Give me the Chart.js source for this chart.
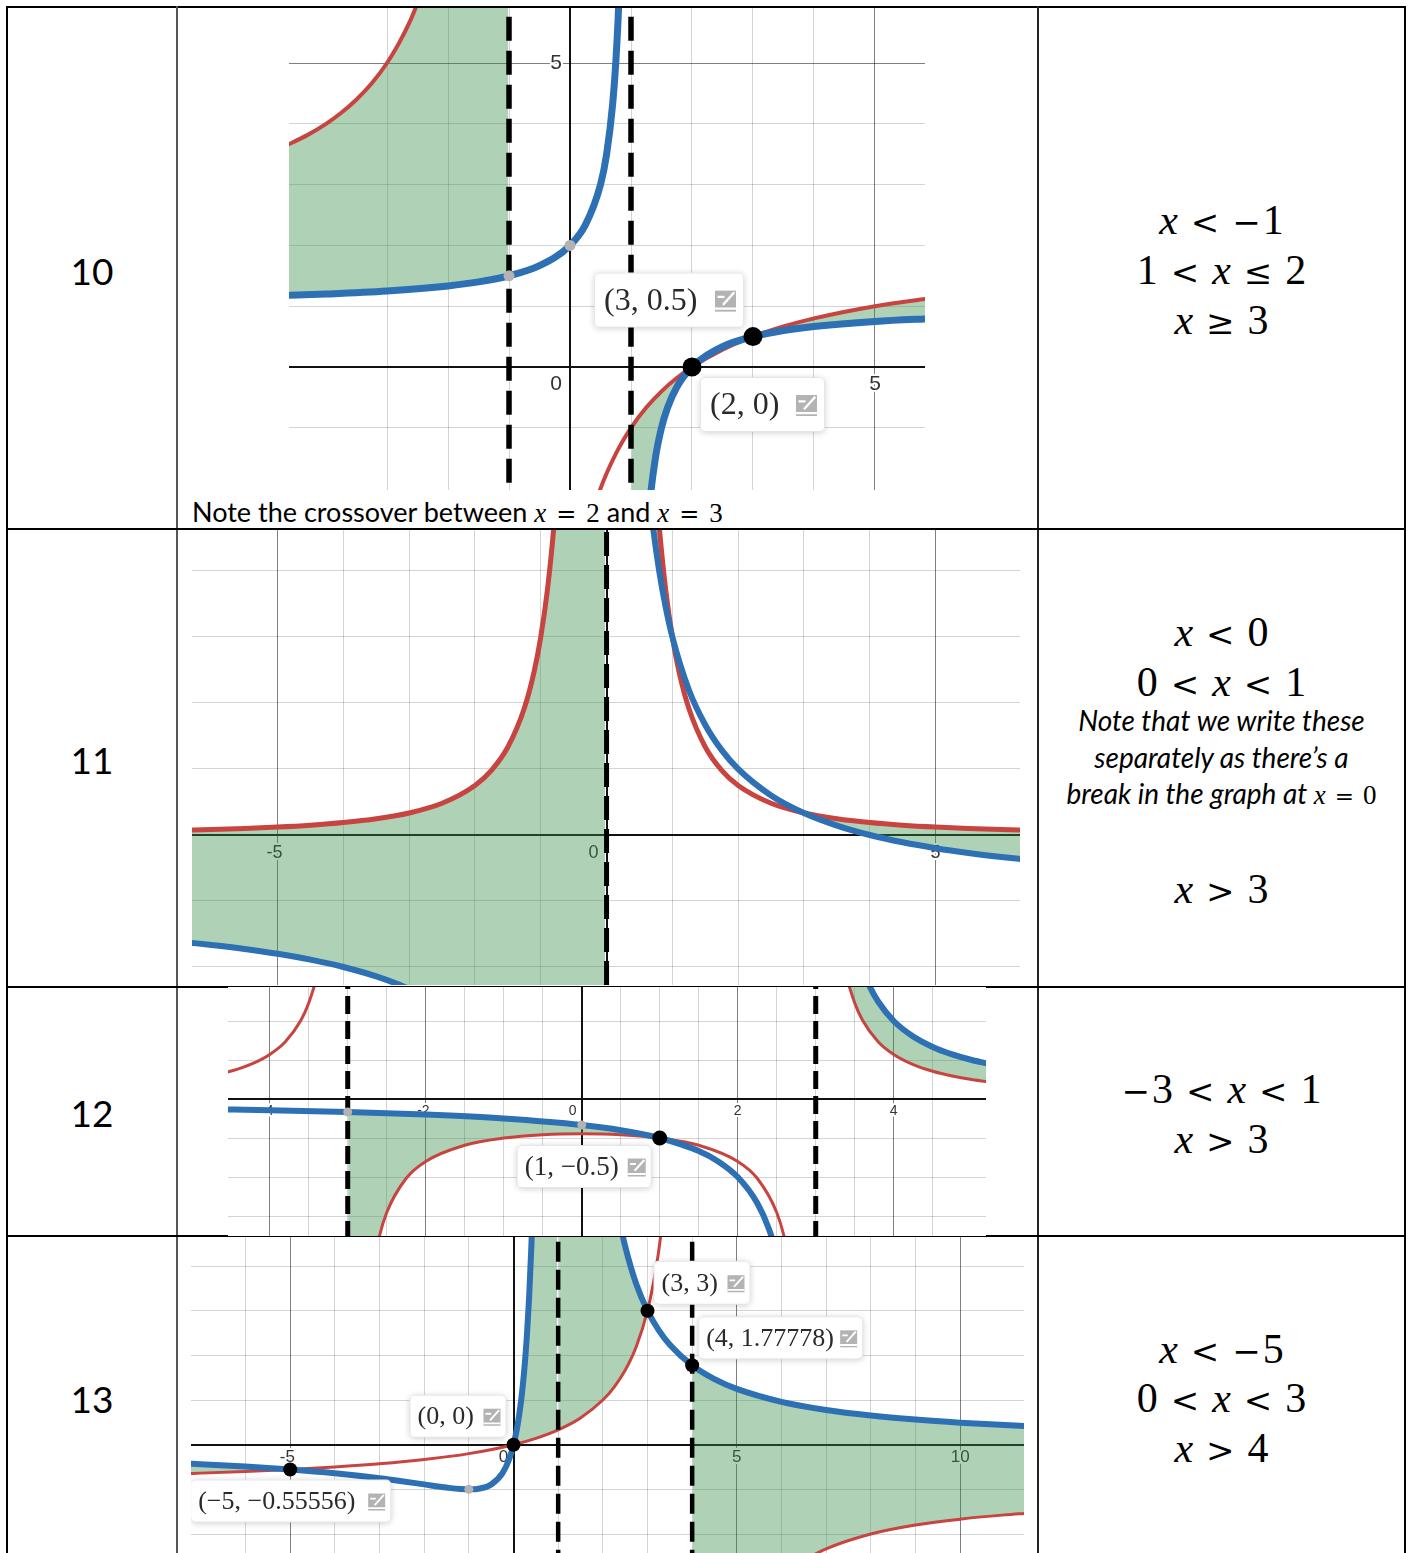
<!DOCTYPE html>
<html><head><meta charset="utf-8">
<script src="https://cdn.jsdelivr.net/npm/chart.js@4/dist/chart.umd.min.js"></script>
<style>
html,body{margin:0;padding:0;background:#fff;}
#page{position:relative;width:1410px;height:1553px;overflow:hidden;background:#fff;}
.ln{position:absolute;background:#000;z-index:1;}
canvas.graph{position:absolute;background:#fff;z-index:2;}
.num{position:absolute;left:7px;width:170px;text-align:center;font-family:Lato,sans-serif;font-size:37px;line-height:1;transform:translateY(-50%);color:#000;}
.sol{position:absolute;left:1039px;width:365px;text-align:center;font-family:'Liberation Serif',serif;font-size:42px;line-height:1;transform:translateY(-50%);color:#000;white-space:nowrap;}
.sol i,.mi{font-style:italic;font-family:'Liberation Serif',serif;}
.op{margin:0 13px;font-family:'DejaVu Serif',serif;font-size:34px;}
.neg{margin:0 2px 0 0;font-family:'DejaVu Serif',serif;font-size:34px;}
.note{position:absolute;left:1039px;width:365px;text-align:center;font-family:Lato,sans-serif;font-style:italic;font-size:28px;line-height:1;transform:translateY(-50%);white-space:nowrap;color:#000;}
.note .m{font-style:normal;font-family:'Liberation Serif',serif;font-size:27px;}
.note .mo{margin:0 9px;font-family:'DejaVu Serif',serif;font-size:23px;}
.cap{position:absolute;left:192px;font-family:Lato,sans-serif;font-size:27px;line-height:1;transform:translateY(-50%);white-space:nowrap;z-index:3;color:#000;}
.cap .m{font-family:'Liberation Serif',serif;font-size:27px;}
.cap .mo{margin:0 10px;font-family:'DejaVu Serif',serif;font-size:24px;}
</style>
</head>
<body>
<div id="page">
  <!-- table borders -->
  <div class="ln" style="left:6px;top:6px;width:1400px;height:2px;"></div>
  <div class="ln" style="left:6px;top:6px;width:2px;height:1547px;"></div>
  <div class="ln" style="left:1404px;top:6px;width:2px;height:1547px;"></div>
  <div class="ln" style="left:176px;top:6px;width:2px;height:1547px;background:#555;"></div>
  <div class="ln" style="left:1037px;top:6px;width:2px;height:1547px;background:#222;"></div>
  <div class="ln" style="left:6px;top:528px;width:1400px;height:2px;"></div>
  <div class="ln" style="left:6px;top:986px;width:1400px;height:2px;"></div>
  <div class="ln" style="left:6px;top:1235px;width:1400px;height:2px;"></div>

  <canvas id="g10" class="graph" width="636" height="482" style="left:289px;top:8px;"></canvas>
  <canvas id="g11" class="graph" width="828" height="455" style="left:192px;top:530px;"></canvas>
  <canvas id="g12" class="graph" width="758" height="249" style="left:228px;top:987px;"></canvas>
  <canvas id="g13" class="graph" width="833" height="316" style="left:191px;top:1237px;"></canvas>

  <div id="texts"></div>
</div>

<script>
// ================= DATA =================
const rowNumbers = ['10', '11', '12', '13'];

// ---- Row 10 : blue curve (two branches), red curve (two branches)
const r10BlueLeftX  = [-4.7, -4, -3, -2, -1.5, -1, -0.5, 0, 0.25, 0.5, 0.6, 0.7, 0.75, 0.8, 0.85, 0.9, 0.95, 0.99];
const r10BlueLeftY  = [1.1754, 1.2, 1.25, 1.3333, 1.4, 1.5, 1.6667, 2, 2.3333, 3, 3.5, 4.3333, 5, 6, 7.6667, 11, 21, 101];
const r10BlueRightX = [1.01, 1.05, 1.1, 1.2, 1.3, 1.4, 1.5, 1.6, 1.75, 2, 2.5, 3, 3.5, 4, 5, 6];
const r10BlueRightY = [-99, -19, -9, -4, -2.3333, -1.5, -1, -0.6667, -0.3333, 0, 0.3333, 0.5, 0.6, 0.6667, 0.75, 0.8];
const r10RedLeftX   = [-4.7, -4.3, -4, -3.75, -3.5, -3.25, -3, -2.75, -2.5, -2, -1.5, -1.2, -1.05, -1.01];
const r10RedLeftY   = [3.6216, 3.8182, 4, 4.1818, 4.4, 4.6667, 5, 5.4286, 6, 8, 14, 32, 122, 602];
const r10RedRightX  = [-0.99, -0.9, -0.5, 0, 0.25, 0.5, 0.75, 1, 1.25, 1.5, 1.75, 2, 2.5, 3, 3.5, 4, 5, 6];
const r10RedRightY  = [-598, -58, -10, -4, -2.8, -2, -1.4286, -1, -0.6667, -0.4, -0.1818, 0, 0.2857, 0.5, 0.6667, 0.8, 1, 1.1429];
const r10Asymptotes = [-1, 1];
const r10KeyX = [2, 3],   r10KeyY = [0, 0.5];
const r10GreyX = [-1, 0], r10GreyY = [1.5, 2];
const r10PointLabels = ['(3, 0.5)', '(2, 0)'];
const r10PointLabelAt = [[3, 0.5], [2, 0]];
const r10AxisTicks = ['0', '5'];
const r10AxisTickValues = [0, 5];

// ---- Row 11
const r11BlueLeftX  = [-6.4, -6, -5.5, -5, -4.5, -4, -3.5, -3, -2.5, -2, -1, -0.5, -0.1, -0.02];
const r11BlueLeftY  = [-1.625, -1.6667, -1.7273, -1.8, -1.8889, -2, -2.1429, -2.3333, -2.6, -3, -5, -9, -41, -201];
const r11BlueRightX = [0.02, 0.1, 0.3, 0.5, 0.6, 0.7, 0.8, 0.9, 1, 1.25, 1.5, 1.75, 2, 2.5, 3, 3.5, 4, 4.5, 5, 5.5, 6, 6.4];
const r11BlueRightY = [199, 39, 12.3333, 7, 5.6667, 4.7143, 4, 3.4444, 3, 2.2, 1.6667, 1.2857, 1, 0.6, 0.3333, 0.1429, 0, -0.1111, -0.2, -0.2727, -0.3333, -0.375];
const r11RedLeftX   = [-6.4, -6, -5.5, -5, -4.5, -4, -3.5, -3, -2.5, -2, -1.75, -1.5, -1.25, -1.1, -1, -0.9, -0.8, -0.7, -0.6, -0.5, -0.3, -0.1, -0.02];
const r11RedLeftY   = [0.0732, 0.0833, 0.0992, 0.12, 0.1481, 0.1875, 0.2449, 0.3333, 0.48, 0.75, 0.9796, 1.3333, 1.92, 2.4793, 3, 3.7037, 4.6875, 6.1224, 8.3333, 12, 33.33, 300, 7500];
const r11RedRightX  = [0.02, 0.1, 0.3, 0.5, 0.6, 0.7, 0.8, 0.9, 1, 1.1, 1.25, 1.5, 1.75, 2, 2.5, 3, 3.5, 4, 4.5, 5, 5.5, 6, 6.4];
const r11RedRightY  = [7500, 300, 33.33, 12, 8.3333, 6.1224, 4.6875, 3.7037, 3, 2.4793, 1.92, 1.3333, 0.9796, 0.75, 0.48, 0.3333, 0.2449, 0.1875, 0.1481, 0.12, 0.0992, 0.0833, 0.0732];
const r11Asymptotes = [0];
const r11AxisTicks = ['-5', '0', '5'];
const r11AxisTickValues = [-5, 0, 5];

// ---- Row 12
const r12BlueLeftX  = [-4.7, -4, -3, -2, -1, 0, 0.5, 1, 1.5, 1.75, 2, 2.25, 2.4, 2.5, 2.6, 2.75, 2.9, 2.98, 2.995];
const r12BlueLeftY  = [-0.1299, -0.1429, -0.1667, -0.2, -0.25, -0.3333, -0.4, -0.5, -0.6667, -0.8, -1, -1.3333, -1.6667, -2, -2.5, -4, -10, -50, -200];
const r12BlueRightX = [3.005, 3.02, 3.1, 3.25, 3.5, 3.6, 3.7, 3.8, 4, 4.25, 4.5, 4.75, 5, 5.3];
const r12BlueRightY = [200, 50, 10, 4, 2, 1.6667, 1.4286, 1.25, 1, 0.8, 0.6667, 0.5714, 0.5, 0.4348];
const r12RedLeftX   = [-4.7, -4.4, -4.2, -4, -3.8, -3.6, -3.5, -3.4, -3.3, -3.2, -3.1, -3.02, -3.005];
const r12RedLeftY   = [0.3056, 0.3861, 0.463, 0.5714, 0.7353, 1.0101, 1.2308, 1.5625, 2.1164, 3.2258, 6.557, 33.2, 133.2];
const r12RedMidX    = [-2.995, -2.98, -2.9, -2.8, -2.7, -2.6, -2.5, -2.25, -2, -1.5, -1, -0.5, 0, 0.5, 1, 1.5, 2, 2.25, 2.5, 2.6, 2.7, 2.8, 2.9, 2.98, 2.995];
const r12RedMidY    = [-133.4, -33.4, -6.78, -3.448, -2.339, -1.786, -1.4545, -1.0159, -0.8, -0.5926, -0.5, -0.4571, -0.4444, -0.4571, -0.5, -0.5926, -0.8, -1.0159, -1.4545, -1.786, -2.339, -3.448, -6.78, -33.4, -133.4];
const r12RedRightX  = [3.005, 3.02, 3.1, 3.2, 3.3, 3.4, 3.5, 3.6, 3.8, 4, 4.25, 4.5, 4.75, 5, 5.3];
const r12RedRightY  = [133.2, 33.2, 6.557, 3.2258, 2.1164, 1.5625, 1.2308, 1.0101, 0.7353, 0.5714, 0.4414, 0.3556, 0.2949, 0.25, 0.2095];
const r12Asymptotes = [-3, 3];
const r12KeyX = [1], r12KeyY = [-0.5];
const r12GreyX = [-3, 0], r12GreyY = [-0.1667, -0.3333];
const r12PointLabels = ['(1, \u22120.5)'];
const r12PointLabelAt = [[1, -0.5]];
const r12AxisTicks = ['-4', '-2', '0', '2', '4'];
const r12AxisTickValues = [-4, -2, 0, 2, 4];

// ---- Row 13
const r13BlueLeftX  = [-7.3, -7, -6, -5, -4, -3, -2.5, -2, -1.5, -1, -0.75, -0.5, -0.25, -0.1, 0, 0.05, 0.1, 0.15, 0.2, 0.25, 0.3, 0.35, 0.4, 0.45, 0.5, 0.6, 0.8, 0.95, 0.98];
const r13BlueLeftY  = [-0.4239, -0.4375, -0.4898, -0.5556, -0.64, -0.75, -0.8163, -0.8889, -0.96, -1, -0.9796, -0.8889, -0.64, -0.3306, 0, 0.2216, 0.4938, 0.8304, 1.25, 1.7778, 2.449, 3.3136, 4.4444, 5.9504, 8, 15, 80, 1520, 9800];
const r13BlueRightX = [1.02, 1.05, 1.2, 1.5, 1.75, 2, 2.1, 2.25, 2.4, 2.5, 2.75, 3, 3.25, 3.5, 4, 4.5, 5, 6, 7, 8, 9, 10, 11, 11.5];
const r13BlueRightY = [10200, 1680, 120, 24, 12.444, 8, 6.9421, 5.76, 4.898, 4.4444, 3.5918, 3, 2.5679, 2.24, 1.7778, 1.4694, 1.25, 0.96, 0.7778, 0.6531, 0.5625, 0.4938, 0.44, 0.4172];
const r13RedLeftX   = [-7.3, -7, -6, -5, -4, -3, -2, -1, 0, 0.5, 1, 1.5, 2, 2.25, 2.5, 2.75, 3, 3.2, 3.3, 3.4, 3.5, 3.7, 3.9, 3.99];
const r13RedLeftY   = [-0.646, -0.6364, -0.6, -0.5556, -0.5, -0.4286, -0.3333, -0.2, 0, 0.1429, 0.3333, 0.6, 1, 1.2857, 1.6667, 2.2, 3, 4, 4.7143, 5.6667, 7, 12.3333, 39, 399];
const r13RedRightX  = [4.01, 4.1, 4.5, 5, 5.5, 6, 6.5, 7, 8, 9, 10, 11, 11.5];
const r13RedRightY  = [-401, -41, -9, -5, -3.6667, -3, -2.6, -2.3333, -2, -1.8, -1.6667, -1.5714, -1.5333];
const r13Asymptotes = [1, 4];
const r13KeyX = [-5, 0, 3, 4], r13KeyY = [-0.5556, 0, 3, 1.7778];
const r13GreyX = [-1], r13GreyY = [-1];
const r13PointLabels = ['(3, 3)', '(4, 1.77778)', '(0, 0)', '(\u22125, \u22120.55556)'];
const r13PointLabelAt = [[3, 3], [4, 1.7778], [0, 0], [-5, -0.5556]];
const r13AxisTicks = ['-5', '0', '5', '10'];
const r13AxisTickValues = [-5, 0, 5, 10];

// ---- right-hand column solutions
const sol10 = ['x < \u22121', '1 < x \u2264 2', 'x \u2265 3'];
const sol11 = ['x < 0', '0 < x < 1', 'x > 3'];
const note11 = ['Note that we write these', 'separately as there\u2019s a', 'break in the graph at '];
const sol12 = ['\u22123 < x < 1', 'x > 3'];
const sol13 = ['x < \u22125', '0 < x < 3', 'x > 4'];
const caption10 = 'Note the crossover between ';

// ================= STYLE / LAYOUT =================
const BLUE = '#2d70b3', RED = '#c74440', GREEN = 'rgba(56,140,70,0.40)';
function pts(xs, ys) { return xs.map((x, i) => ({x: x, y: ys[i]})); }

function isMult(v, s) { const k = v / s; return Math.abs(k - Math.round(k)) < 1e-6; }
function gridColor(step, major) {
  return ctx => {
    if (!ctx.tick) return 'rgba(0,0,0,0)';
    const v = ctx.tick.value;
    if (!isMult(v, step)) return 'rgba(0,0,0,0)';
    if (Math.abs(v) < 1e-9) return '#111';
    if (isMult(v, major)) return 'rgba(0,0,0,0.5)';
    return 'rgba(0,0,0,0.17)';
  };
}
function gridWidth() { return ctx => (ctx.tick && Math.abs(ctx.tick.value) < 1e-9) ? 2 : 1; }

function roundRect(ctx, x, y, w, h, r) {
  ctx.beginPath();
  ctx.moveTo(x + r, y);
  ctx.arcTo(x + w, y, x + w, y + h, r);
  ctx.arcTo(x + w, y + h, x, y + h, r);
  ctx.arcTo(x, y + h, x, y, r);
  ctx.arcTo(x, y, x + w, y, r);
  ctx.closePath();
}

function makePlugin(s) {
  return {
    id: 'desmosText',
    beforeDatasetsDraw(chart) {
      const ctx = chart.ctx, xs = chart.scales.x, ys = chart.scales.y;
      ctx.save();
      ctx.font = s.tickFont + 'px "Liberation Sans", Arial, sans-serif';
      ctx.textAlign = 'center';
      ctx.textBaseline = 'middle';
      ctx.lineJoin = 'round';
      for (const t of s.ticks) {
        let px, py;
        if (t.axis === 'x') { px = xs.getPixelForValue(t.v) + t.dx; py = ys.getPixelForValue(0) + t.dy; }
        else { px = xs.getPixelForValue(0) + t.dx; py = ys.getPixelForValue(t.v) + t.dy; }
        if (t.text[0] === '-') px -= ctx.measureText('-').width / 2;
        ctx.strokeStyle = '#fff'; ctx.lineWidth = 4;
        ctx.strokeText(t.text, px, py);
        ctx.fillStyle = '#333';
        ctx.fillText(t.text, px, py);
      }
      ctx.restore();
    },
    afterDatasetsDraw(chart) {
      const ctx = chart.ctx, xs = chart.scales.x, ys = chart.scales.y;
      for (const b of s.boxes) {
        const px = xs.getPixelForValue(b.at[0]), py = ys.getPixelForValue(b.at[1]);
        const bx = px + b.dx, by = py + b.dy;
        ctx.save();
        ctx.shadowColor = 'rgba(0,0,0,0.18)'; ctx.shadowBlur = 6; ctx.shadowOffsetY = 1;
        roundRect(ctx, bx, by, b.w, b.h, 5);
        ctx.fillStyle = '#fff'; ctx.fill();
        ctx.restore();
        ctx.save();
        roundRect(ctx, bx + 0.5, by + 0.5, b.w - 1, b.h - 1, 5);
        ctx.strokeStyle = 'rgba(0,0,0,0.10)'; ctx.lineWidth = 1; ctx.stroke();
        ctx.font = s.boxFont + 'px "Liberation Serif", "Times New Roman", serif';
        ctx.fillStyle = '#2a2a2a';
        ctx.textAlign = 'left'; ctx.textBaseline = 'middle';
        ctx.fillText(b.text, bx + s.boxPad, by + b.h / 2 + 1);
        // edit icon
        const isz = Math.round(s.boxFont * 0.66);
        const ix = bx + b.w - s.boxPad + 2 - isz, iy = by + (b.h - isz) / 2 + 1;
        ctx.fillStyle = '#b3b3b3';
        ctx.fillRect(ix, iy, isz, isz);
        ctx.strokeStyle = '#fff'; ctx.lineWidth = Math.max(1.5, isz / 9);
        ctx.beginPath();
        ctx.moveTo(ix + isz * 0.12, iy + isz * 0.3); ctx.lineTo(ix + isz * 0.45, iy + isz * 0.3);
        ctx.moveTo(ix + isz * 0.38, iy + isz * 0.68); ctx.lineTo(ix + isz * 0.92, iy + isz * 0.08);
        ctx.moveTo(ix, iy + isz * 0.86); ctx.lineTo(ix + isz, iy + isz * 0.86);
        ctx.stroke();
        ctx.restore();
      }
    }
  };
}

function makeGraph(id, s) {
  const datasets = [];
  const idx = {};
  for (const c of s.curves) {
    idx[c.key] = datasets.length;
    datasets.push({
      data: pts(c.xs, c.ys), borderColor: c.red ? RED : BLUE, borderWidth: c.red ? s.redW : s.blueW,
      pointRadius: 0, fill: false, order: c.red ? 6 : 5, clip: 0, borderCapStyle: 'round', borderJoinStyle: 'round'
    });
  }
  for (const f of s.fills) {
    const src = s.curves.find(c => c.key === f.from);
    datasets.push({
      data: pts(src.xs, src.ys), borderWidth: 0, borderColor: 'rgba(0,0,0,0)', backgroundColor: GREEN, pointRadius: 0,
      fill: {target: idx[f.to], above: GREEN, below: 'rgba(0,0,0,0)'}, order: 20, clip: 0
    });
  }
  for (const xv of s.dashX) {
    datasets.push({
      data: [{x: xv, y: s.yMin - 1}, {x: xv, y: s.yMax + 1}], borderColor: '#000', borderWidth: s.dashW,
      borderDash: s.dash, cubicInterpolationMode: 'default', tension: 0, pointRadius: 0, fill: false, order: 3, clip: 0
    });
  }
  if (s.greyX) datasets.push({
    data: pts(s.greyX, s.greyY), showLine: false, pointRadius: s.greyR, pointBackgroundColor: '#b3b3b3',
    pointBorderWidth: 0, order: 2, fill: false, clip: 0
  });
  if (s.keyX) datasets.push({
    data: pts(s.keyX, s.keyY), showLine: false, pointRadius: s.keyR, pointBackgroundColor: '#000',
    pointBorderWidth: 0, order: 1, fill: false, clip: 0
  });
  const axis = (min, max, step, major) => ({
    type: 'linear', min: min, max: max,
    ticks: {display: false, stepSize: step},
    grid: {drawTicks: false, color: gridColor(step, major), lineWidth: gridWidth()},
    border: {display: false}
  });
  new Chart(document.getElementById(id), {
    type: 'line',
    data: {datasets: datasets},
    options: {
      responsive: false, animation: false, events: [],
      layout: {padding: 0, autoPadding: false},
      elements: {line: {cubicInterpolationMode: 'monotone', capBezierPoints: false}, point: {radius: 0, hoverRadius: 0}},
      plugins: {legend: {display: false}, tooltip: {enabled: false}, filler: {drawTime: 'beforeDatasetDraw', propagate: false}},
      scales: {x: axis(s.xMin, s.xMax, s.step, s.major), y: axis(s.yMin, s.yMax, s.step, s.major)}
    },
    plugins: [makePlugin(s)]
  });
}

function xTicks(labels, values, dy, zeroDx) {
  return labels.map((t, i) => ({axis: 'x', v: values[i], text: t, dx: values[i] === 0 ? zeroDx : 0, dy: dy}));
}
function boxes(labels, at, geo) {
  return labels.map((t, i) => Object.assign({text: t, at: at[i]}, geo[i]));
}

// Row 10
makeGraph('g10', {
  xMin: -4.607, xMax: 5.820, yMin: -2.023, yMax: 5.905, step: 1, major: 5,
  blueW: 7, redW: 4, dashW: 5.5, dash: [24, 10],
  curves: [
    {key: 'rA', red: true, xs: r10RedLeftX, ys: r10RedLeftY},
    {key: 'rB', red: true, xs: r10RedRightX, ys: r10RedRightY},
    {key: 'bA', xs: r10BlueLeftX, ys: r10BlueLeftY},
    {key: 'bB', xs: r10BlueRightX, ys: r10BlueRightY}
  ],
  fills: [{from: 'rA', to: 'bA'}, {from: 'rB', to: 'bB'}],
  dashX: r10Asymptotes,
  keyX: r10KeyX, keyY: r10KeyY, keyR: 9.5,
  greyX: r10GreyX, greyY: r10GreyY, greyR: 5.5,
  tickFont: 21,
  ticks: xTicks(r10AxisTicks, r10AxisTickValues, 17, -14).concat([{axis: 'y', v: 5, text: '5', dx: -14, dy: 0}]),
  boxFont: 32, boxPad: 10,
  boxes: boxes(r10PointLabels, r10PointLabelAt, [{dx: -159, dy: -64, w: 150, h: 55}, {dx: 8, dy: 10, w: 125, h: 55}])
});

// Row 11
makeGraph('g11', {
  xMin: -6.30, xMax: 6.283, yMin: -2.273, yMax: 4.621, step: 1, major: 5,
  blueW: 6, redW: 5, dashW: 5, dash: [24, 9],
  curves: [
    {key: 'rA', red: true, xs: r11RedLeftX, ys: r11RedLeftY},
    {key: 'rB', red: true, xs: r11RedRightX, ys: r11RedRightY},
    {key: 'bA', xs: r11BlueLeftX, ys: r11BlueLeftY},
    {key: 'bB', xs: r11BlueRightX, ys: r11BlueRightY}
  ],
  fills: [{from: 'rA', to: 'bA'}, {from: 'rB', to: 'bB'}],
  dashX: r11Asymptotes,
  tickFont: 18,
  ticks: xTicks(r11AxisTicks, r11AxisTickValues, 18, -13),
  boxFont: 27, boxPad: 10, boxes: []
});

// Row 12
makeGraph('g12', {
  xMin: -4.535, xMax: 5.183, yMin: -1.756, yMax: 1.436, step: 0.5, major: 2,
  blueW: 6, redW: 3, dashW: 5, dash: [18, 7],
  curves: [
    {key: 'rA', red: true, xs: r12RedLeftX, ys: r12RedLeftY},
    {key: 'rB', red: true, xs: r12RedMidX, ys: r12RedMidY},
    {key: 'rC', red: true, xs: r12RedRightX, ys: r12RedRightY},
    {key: 'bA', xs: r12BlueLeftX, ys: r12BlueLeftY},
    {key: 'bB', xs: r12BlueRightX, ys: r12BlueRightY}
  ],
  fills: [{from: 'bA', to: 'rB'}, {from: 'bB', to: 'rC'}],
  dashX: r12Asymptotes,
  keyX: r12KeyX, keyY: r12KeyY, keyR: 7.5,
  greyX: r12GreyX, greyY: r12GreyY, greyR: 4.5,
  tickFont: 14,
  ticks: xTicks(r12AxisTicks, r12AxisTickValues, 12, -9),
  boxFont: 27, boxPad: 8,
  boxes: boxes(r12PointLabels, r12PointLabelAt, [{dx: -143, dy: 7, w: 135, h: 43}])
});

// Row 13
makeGraph('g13', {
  xMin: -7.221, xMax: 11.430, yMin: -2.425, yMax: 4.651, step: 1, major: 5,
  blueW: 6, redW: 3, dashW: 4.5, dash: [20, 8],
  curves: [
    {key: 'rA', red: true, xs: r13RedLeftX, ys: r13RedLeftY},
    {key: 'rB', red: true, xs: r13RedRightX, ys: r13RedRightY},
    {key: 'bA', xs: r13BlueLeftX, ys: r13BlueLeftY},
    {key: 'bB', xs: r13BlueRightX, ys: r13BlueRightY}
  ],
  fills: [{from: 'bA', to: 'rA'}, {from: 'bB', to: 'rA'}, {from: 'bB', to: 'rB'}],
  dashX: r13Asymptotes,
  keyX: r13KeyX, keyY: r13KeyY, keyR: 7,
  greyX: r13GreyX, greyY: r13GreyY, greyR: 4.5,
  tickFont: 17,
  ticks: xTicks(r13AxisTicks, r13AxisTickValues, 13, -10),
  boxFont: 26, boxPad: 8,
  boxes: boxes(r13PointLabels, r13PointLabelAt, [
    {dx: 6, dy: -50, w: 97, h: 44}, {dx: 6, dy: -49, w: 165, h: 43},
    {dx: -104, dy: -50, w: 97, h: 43}, {dx: -100, dy: 10, w: 201, h: 43}])
});

// ================= TEXT =================
const host = document.getElementById('texts');
function mathHTML(s) {
  // italic x, spaced relations, widened unary minus
  return s.split(' ').map(tok => {
    if (tok === 'x') return '<i>x</i>';
    if (['<', '>', '\u2264', '\u2265', '='].includes(tok)) return '<span class="op">' + tok.replace('<', '&lt;').replace('>', '&gt;') + '</span>';
    if (tok[0] === '\u2212') return '<span class="neg">\u2212</span>' + tok.slice(1);
    return tok;
  }).join('');
}
function addDiv(cls, html, top, extra) {
  const d = document.createElement('div');
  d.className = cls; d.innerHTML = html; d.style.top = top + 'px';
  if (extra) Object.assign(d.style, extra);
  host.appendChild(d);
}
const numCenters = [270, 759, 1112, 1398];
rowNumbers.forEach((n, i) => addDiv('num', n, numCenters[i]));
[220, 270, 320].forEach((y, i) => addDiv('sol', mathHTML(sol10[i]), y));
addDiv('sol', mathHTML(sol11[0]), 632);
addDiv('sol', mathHTML(sol11[1]), 682);
addDiv('note', note11[0], 720);
addDiv('note', note11[1], 757);
addDiv('note', note11[2] + '<span class="m"><span class="mi">x</span><span class="mo">=</span>0</span>', 794);
addDiv('sol', mathHTML(sol11[2]), 889);
[1089, 1139].forEach((y, i) => addDiv('sol', mathHTML(sol12[i]), y));
[1349, 1398, 1448].forEach((y, i) => addDiv('sol', mathHTML(sol13[i]), y));
addDiv('cap', caption10 + '<span class="m"><span class="mi">x</span><span class="mo">=</span>2</span> and <span class="m"><span class="mi">x</span><span class="mo">=</span>3</span>', 512);
</script>
</body></html>
